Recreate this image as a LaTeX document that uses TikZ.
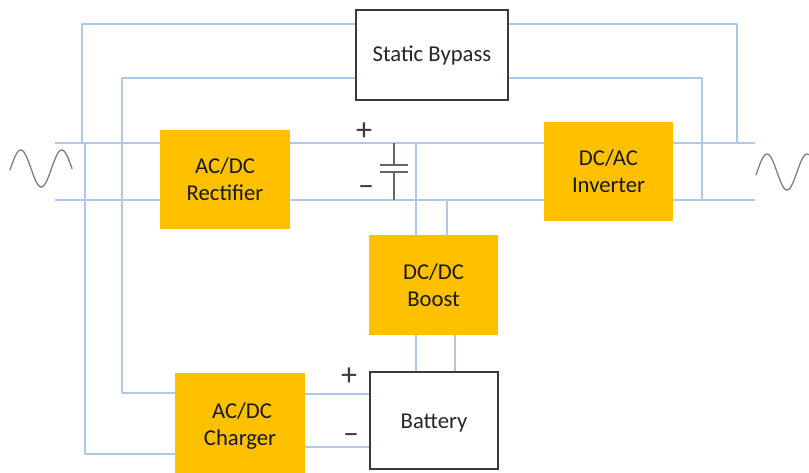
\documentclass[tikz,border=0pt]{standalone}
\usepackage{fontspec}
\setmainfont{Carlito}
\definecolor{wire}{HTML}{AFC8E8}
\definecolor{amber}{HTML}{FFC000}
\definecolor{ink}{HTML}{3A3A3A}
\tikzset{
  wirepath/.style={draw=wire,line width=1.7pt,line join=round},
  conv/.style={fill=amber,draw=none,inner sep=0pt,align=center,font=\fontsize{17}{20.5}\selectfont,text=black!90},
  plainbox/.style={fill=white,draw=ink,line width=1.7pt,inner sep=0pt,align=center,font=\fontsize{17}{20}\selectfont,text=black!85},
  sign/.style={inner sep=0pt,font=\fontsize{24}{24}\selectfont,text=ink},
  capline/.style={draw=black!60,line width=1.4pt},
  sine/.style={draw=black!50,line width=1pt,line cap=round}
}
\begin{document}
\begin{tikzpicture}[x=0.75pt,y=-0.75pt]
\useasboundingbox (0,0) rectangle (809,472);
\clip (0,0) rectangle (809,472);
% junction and free-end coordinates
\coordinate (pl) at (55,143);
\coordinate (ml) at (55,200);
\coordinate (pr) at (755,143);
\coordinate (mr) at (755,200);
\coordinate (tl) at (82,24);
\coordinate (ul) at (122,78);
\coordinate (tr) at (737,24);
\coordinate (ur) at (702,78);
\coordinate (ja) at (82,143);
\coordinate (jb) at (85,143);
\coordinate (jc) at (122,393);
\coordinate (jd) at (85,454);
\coordinate (je) at (737,143);
\coordinate (jf) at (702,200);
\coordinate (jg) at (416,143);
\coordinate (jh) at (447,200);
\coordinate (ji) at (394,143);
\coordinate (jj) at (394,200);
\coordinate (bg) at (416,235);
\coordinate (bh) at (447,235);
\coordinate (bi) at (416,335);
\coordinate (bj) at (455,335);
\coordinate (bk) at (416,372);
\coordinate (bl) at (455,372);
\coordinate (sa) at (356,24);
\coordinate (sb) at (356,78);
\coordinate (sc) at (508,24);
\coordinate (sd) at (508,78);
\coordinate (ra) at (160,143);
\coordinate (rb) at (160,200);
\coordinate (rc) at (290,143);
\coordinate (rd) at (290,200);
\coordinate (ia) at (544,143);
\coordinate (ib) at (544,200);
\coordinate (ic) at (673,143);
\coordinate (id) at (673,200);
\coordinate (ca) at (175,393);
\coordinate (cb) at (175,454);
\coordinate (cc) at (305,394);
\coordinate (cd) at (305,447);
\coordinate (ba) at (370,394);
\coordinate (bb) at (370,447);
\coordinate (pa) at (380,165);
\coordinate (pb) at (408,165);
\coordinate (pc) at (380,172);
\coordinate (pd) at (408,172);
\coordinate (pe) at (394,165);
\coordinate (pf) at (394,172);
% wires
\draw[wirepath] (pl) -- (ra);
\draw[wirepath] (ml) -- (rb);
\draw[wirepath] (rc) -- (ia);
\draw[wirepath] (rd) -- (ib);
\draw[wirepath] (ic) -- (pr);
\draw[wirepath] (id) -- (mr);
\draw[wirepath] (sa) -- (tl) -- (ja);
\draw[wirepath] (sb) -- (ul) -- (jc) -- (ca);
\draw[wirepath] (jb) -- (jd) -- (cb);
\draw[wirepath] (sc) -- (tr) -- (je);
\draw[wirepath] (sd) -- (ur) -- (jf);
\draw[wirepath] (jg) -- (bg);
\draw[wirepath] (jh) -- (bh);
\draw[wirepath] (bi) -- (bk);
\draw[wirepath] (bj) -- (bl);
\draw[wirepath] (cc) -- (ba);
\draw[wirepath] (cd) -- (bb);
% capacitor
\draw[capline] (ji) -- (pe);
\draw[capline] (pf) -- (jj);
\draw[capline] (pa) -- (pb);
\draw[capline] (pc) -- (pd);
% boxes
\node[plainbox,minimum width=114pt,minimum height=67.5pt] (bypass) at (432,55) {Static Bypass};
\node[conv,minimum width=97.5pt,minimum height=74.5pt] (rect) at (225,179.5) {AC/DC\\Rectifier};
\node[conv,minimum width=97pt,minimum height=74.5pt] (inv) at (608.5,171.5) {DC/AC\\Inverter};
\node[conv,minimum width=97pt,minimum height=75pt] (boost) at (433.5,285) {DC/DC\\Boost};
\node[conv,minimum width=97.5pt,minimum height=79.5pt] (chg) at (240,426) {\hspace*{3pt}AC/DC\\Charger};
\node[plainbox,minimum width=96pt,minimum height=72.5pt] (batt) at (434,420.5) {\raisebox{0pt}[15.9pt][3.5pt]{Battery}};
% polarity signs
\node[sign] (p1) at (364,132) {+};
\node[sign] (m1) at (366,191) {–};
\node[sign] (p2) at (349,377) {+};
\node[sign] (m2) at (351,439) {–};
% sine sources
\draw[sine,smooth,domain=0:62,samples=60,variable=\t] plot ({10+\t},{168.5-18.5*sin((\t-0.5)*8.78)});
\draw[sine,smooth,domain=0:53,samples=50,variable=\t] plot ({756+\t},{172-18*sin((\t-1)*9)});
\end{tikzpicture}
\end{document}
